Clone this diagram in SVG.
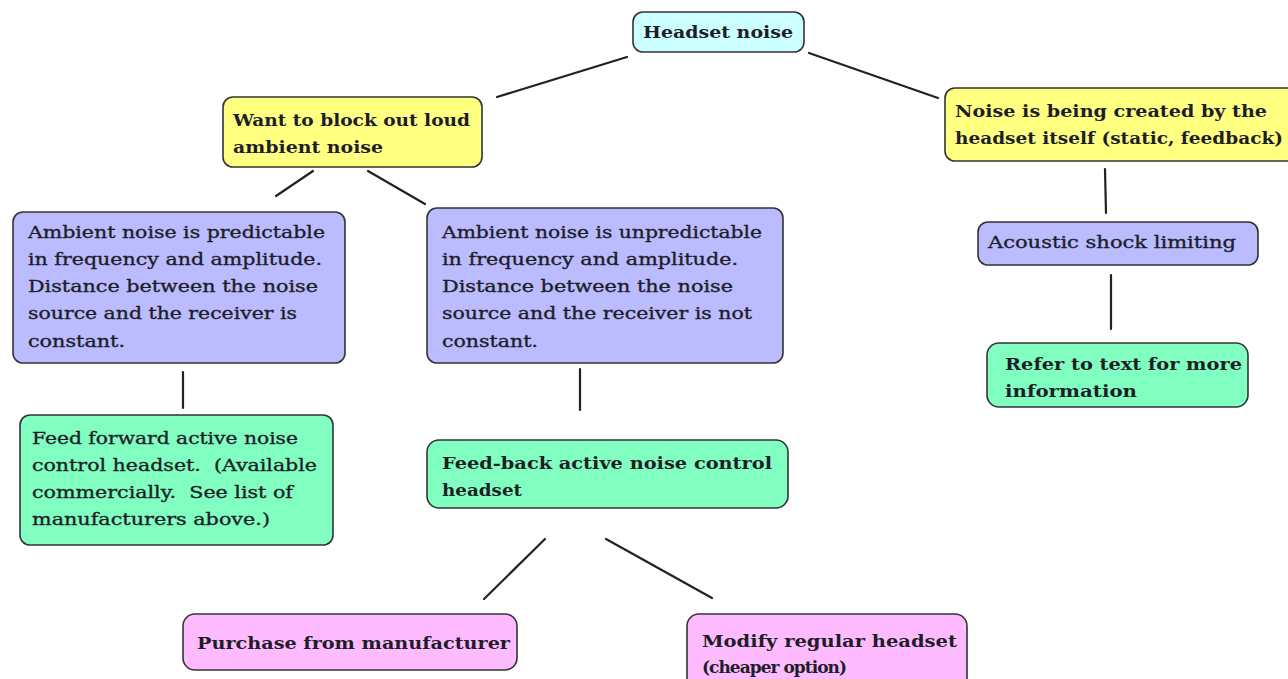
<svg xmlns="http://www.w3.org/2000/svg" width="1288" height="679" viewBox="0 0 1288 679">
<style>
.box{stroke:#333;stroke-width:1.6}
.cyan{fill:#CCFFFF}
.yellow{fill:#FFFF80}
.blue{fill:#BBBBFF}
.green{fill:#80FFC0}
.pink{fill:#FFBBFF}
text{font-family:"DejaVu Serif","Liberation Serif",serif;font-size:17px;fill:#1e1e28}
.r{stroke:#1e1e28;stroke-width:0.35}
.b{font-weight:bold}
.c{stroke:#222;stroke-width:2.2;fill:none;stroke-linecap:round}
</style>
<rect width="1288" height="679" fill="#ffffff"/>
<g id="connectors">
<line class="c" x1="497" y1="97" x2="627" y2="57"/>
<line class="c" x1="809" y1="53" x2="938" y2="98"/>
<line class="c" x1="313" y1="171" x2="276" y2="196"/>
<line class="c" x1="368" y1="171" x2="425" y2="204"/>
<line class="c" x1="1105" y1="169" x2="1106" y2="213"/>
<line class="c" x1="1111" y1="275" x2="1111" y2="329"/>
<line class="c" x1="183" y1="372" x2="183" y2="408"/>
<line class="c" x1="580" y1="369" x2="580" y2="410"/>
<line class="c" x1="545" y1="539" x2="484" y2="599"/>
<line class="c" x1="606" y1="539" x2="712" y2="598"/>
</g>
<g id="headset-noise">
<rect class="box cyan" x="633" y="12" width="171" height="40" rx="10"/>
<text class="b" x="643" y="38" textLength="150" lengthAdjust="spacingAndGlyphs">Headset noise</text>
</g>
<g id="block-ambient">
<rect class="box yellow" x="223" y="97" width="259" height="70" rx="10"/>
<text class="b" x="233" y="126" textLength="237" lengthAdjust="spacingAndGlyphs">Want to block out loud</text>
<text class="b" x="233" y="153" textLength="150" lengthAdjust="spacingAndGlyphs">ambient noise</text>
</g>
<g id="headset-itself">
<rect class="box yellow" x="945" y="88" width="360" height="73" rx="10"/>
<text class="b" x="955" y="117" textLength="312" lengthAdjust="spacingAndGlyphs">Noise is being created by the</text>
<text class="b" x="955" y="144" textLength="328" lengthAdjust="spacingAndGlyphs">headset itself (static, feedback)</text>
</g>
<g id="predictable">
<rect class="box blue" x="13" y="212" width="332" height="151" rx="10"/>
<text class="r" x="28" y="238" textLength="297" lengthAdjust="spacingAndGlyphs">Ambient noise is predictable</text>
<text class="r" x="28" y="265" textLength="294" lengthAdjust="spacingAndGlyphs">in frequency and amplitude.</text>
<text class="r" x="28" y="292" textLength="290" lengthAdjust="spacingAndGlyphs">Distance between the noise</text>
<text class="r" x="28" y="319" textLength="269" lengthAdjust="spacingAndGlyphs">source and the receiver is</text>
<text class="r" x="28" y="347" textLength="97" lengthAdjust="spacingAndGlyphs">constant.</text>
</g>
<g id="unpredictable">
<rect class="box blue" x="427" y="208" width="356" height="155" rx="10"/>
<text class="r" x="442" y="238" textLength="320" lengthAdjust="spacingAndGlyphs">Ambient noise is unpredictable</text>
<text class="r" x="442" y="265" textLength="296" lengthAdjust="spacingAndGlyphs">in frequency and amplitude.</text>
<text class="r" x="442" y="292" textLength="291" lengthAdjust="spacingAndGlyphs">Distance between the noise</text>
<text class="r" x="442" y="319" textLength="310" lengthAdjust="spacingAndGlyphs">source and the receiver is not</text>
<text class="r" x="442" y="347" textLength="96" lengthAdjust="spacingAndGlyphs">constant.</text>
</g>
<g id="acoustic-shock">
<rect class="box blue" x="978" y="222" width="280" height="43" rx="10"/>
<text class="r" x="988" y="248" textLength="248" lengthAdjust="spacingAndGlyphs">Acoustic shock limiting</text>
</g>
<g id="refer-text">
<rect class="box green" x="987" y="343" width="261" height="64" rx="12"/>
<text class="b" x="1005" y="370" textLength="237" lengthAdjust="spacingAndGlyphs">Refer to text for more</text>
<text class="b" x="1005" y="397" textLength="132" lengthAdjust="spacingAndGlyphs">information</text>
</g>
<g id="feed-forward">
<rect class="box green" x="20" y="415" width="313" height="130" rx="10"/>
<text class="r" x="32" y="444" textLength="266" lengthAdjust="spacingAndGlyphs">Feed forward active noise</text>
<text class="r" x="32" y="471" textLength="285" lengthAdjust="spacingAndGlyphs" xml:space="preserve">control headset.  (Available</text>
<text class="r" x="32" y="498" textLength="261" lengthAdjust="spacingAndGlyphs" xml:space="preserve">commercially.  See list of</text>
<text class="r" x="32" y="525" textLength="238" lengthAdjust="spacingAndGlyphs">manufacturers above.)</text>
</g>
<g id="feed-back">
<rect class="box green" x="427" y="440" width="361" height="68" rx="12"/>
<text class="b" x="442" y="469" textLength="330" lengthAdjust="spacingAndGlyphs">Feed-back active noise control</text>
<text class="b" x="442" y="496" textLength="80" lengthAdjust="spacingAndGlyphs">headset</text>
</g>
<g id="purchase">
<rect class="box pink" x="183" y="614" width="334" height="56" rx="12"/>
<text class="b" x="197" y="649" textLength="313" lengthAdjust="spacingAndGlyphs">Purchase from manufacturer</text>
</g>
<g id="modify">
<rect class="box pink" x="687" y="614" width="280" height="80" rx="12"/>
<text class="b" x="702" y="647" textLength="255" lengthAdjust="spacingAndGlyphs">Modify regular headset</text>
<text class="b" x="702" y="673" textLength="145">(cheaper option)</text>
</g>
</svg>
